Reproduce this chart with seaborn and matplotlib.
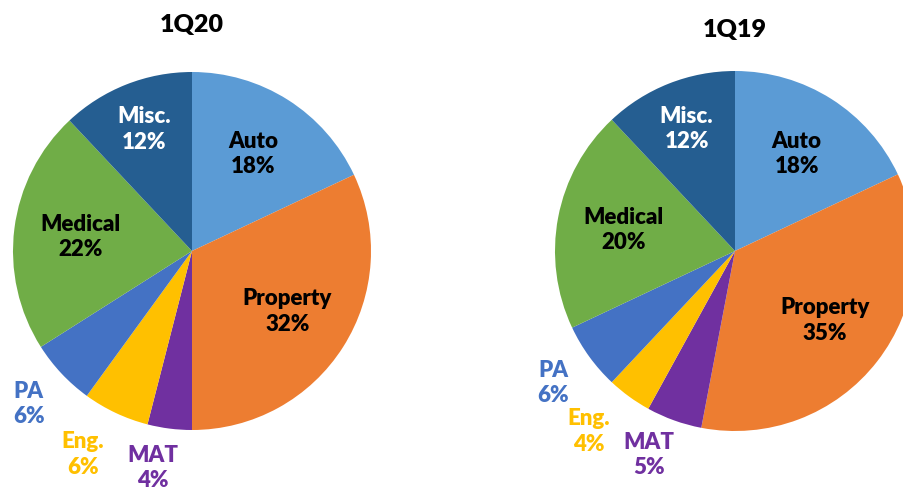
import numpy as np
import matplotlib
matplotlib.use('Agg')
import matplotlib.pyplot as plt
import seaborn as sns

sns.set_theme(style='white')
plt.rcParams['font.family'] = ['Lato', 'DejaVu Sans']

# data
categories = ['Auto', 'Property', 'MAT', 'Eng.', 'PA', 'Medical', 'Misc.']
share_1q20 = [18, 32, 4, 6, 6, 22, 12]
share_1q19 = [18, 35, 5, 4, 6, 20, 12]
titles = ['1Q20', '1Q19']

colors = ['#5B9BD5', '#ED7D31', '#7030A0', '#FFC000', '#4472C4', '#70AD47', '#255E91']
# label styling: distance from centre (radius units), angle nudge (deg), colour
label_radius = {'Auto': 0.64, 'Property': 0.63, 'Medical': 0.63, 'Misc.': 0.73,
                'MAT': 1.23, 'Eng.': 1.29, 'PA': 1.25}
label_nudge = {'MAT': -3, 'Eng.': -3}
label_color = {'Auto': 'black', 'Property': 'black', 'Medical': 'black', 'Misc.': 'white',
               'MAT': '#7030A0', 'Eng.': '#FFC000', 'PA': '#4472C4'}

W, H = 904, 495
fig = plt.figure(figsize=(W / 100, H / 100), dpi=100)

# pie boxes in pixels: (center x, center y, radius)
boxes = [(192, 251, 179), (735, 251, 180)]
title_y = [25, 30]

for (cx, cy, r), vals, title, ty in zip(boxes, [share_1q20, share_1q19], titles, title_y):
    ax = fig.add_axes([(cx - r) / W, (H - cy - r) / H, 2 * r / W, 2 * r / H])
    wedges, _ = ax.pie(vals, colors=colors, startangle=90, counterclock=False,
                       radius=1, wedgeprops=dict(linewidth=0))
    ax.set_xlim(-1, 1)
    ax.set_ylim(-1, 1)
    ax.set_aspect('auto')
    ax.axis('off')
    for w, cat, v in zip(wedges, categories, vals):
        mid = np.deg2rad((w.theta1 + w.theta2) / 2 + label_nudge.get(cat, 0))
        rr = label_radius[cat]
        ax.text(rr * np.cos(mid), rr * np.sin(mid), f'{cat}\n{v}%',
                ha='center', va='center', fontsize=16, fontweight='heavy',
                color=label_color[cat], linespacing=1.25, clip_on=False)
    fig.text(cx / W, 1 - ty / H, title, ha='center', va='center',
             fontsize=18, fontweight='heavy', color='black')

fig.savefig('out.png', dpi=100)
